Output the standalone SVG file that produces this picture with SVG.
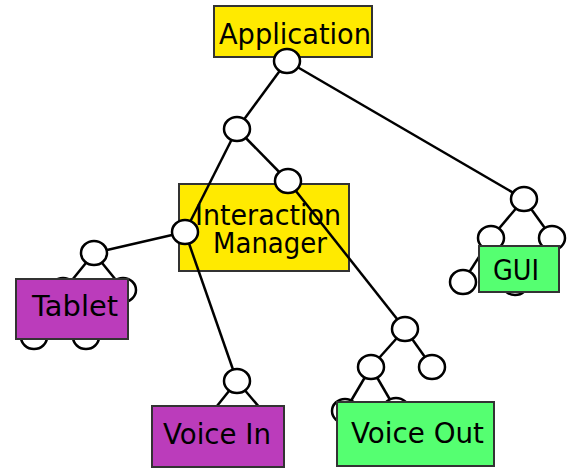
<svg xmlns="http://www.w3.org/2000/svg" width="575" height="473" viewBox="0 0 575 473">
<style>
.box{stroke:#333;stroke-width:2}
.yellow{fill:#FFEA00}
.purple{fill:#BB3CBB}
.green{fill:#55FF71}
.lbl{font-family:"DejaVu Sans",sans-serif;font-size:28px;fill:#000}
.conn line{stroke:#000;stroke-width:2.5}
.jn{fill:#fff;stroke:#000;stroke-width:2.5}
</style>
<rect width="575" height="473" fill="#fff"/>
<g id="application">
<rect class="box yellow" x="214" y="6" width="158" height="51"/>
<text class="lbl" x="219" y="44" textLength="152" lengthAdjust="spacingAndGlyphs">Application</text>
</g>
<g id="interaction-manager">
<rect class="box yellow" x="179" y="184" width="170" height="87"/>
<text class="lbl" x="195" y="225" textLength="146" lengthAdjust="spacingAndGlyphs">Interaction</text>
<text class="lbl" x="213" y="253" textLength="114" lengthAdjust="spacingAndGlyphs">Manager</text>
</g>
<g id="connectors" class="conn">
<line x1="287" y1="61" x2="237" y2="129"/>
<line x1="287" y1="61" x2="524" y2="199"/>
<line x1="237" y1="129" x2="288" y2="181"/>
<line x1="237" y1="129" x2="185" y2="232"/>
<line x1="185" y1="232" x2="94" y2="253"/>
<line x1="185" y1="232" x2="237" y2="381"/>
<line x1="288" y1="181" x2="405" y2="329"/>
<line x1="94" y1="253" x2="64" y2="290"/>
<line x1="94" y1="253" x2="124" y2="290"/>
<line x1="64" y1="290" x2="34" y2="337"/>
<line x1="64" y1="290" x2="86" y2="337"/>
<line x1="237" y1="381" x2="205" y2="421"/>
<line x1="237" y1="381" x2="271" y2="421"/>
<line x1="524" y1="199" x2="491" y2="238"/>
<line x1="524" y1="199" x2="552" y2="238"/>
<line x1="491" y1="238" x2="463" y2="282"/>
<line x1="491" y1="238" x2="515" y2="283"/>
<line x1="405" y1="329" x2="371" y2="367"/>
<line x1="405" y1="329" x2="432" y2="367"/>
<line x1="371" y1="367" x2="345" y2="411"/>
<line x1="371" y1="367" x2="396" y2="410"/>
</g>
<g id="junctions">
<g id="j-app"><ellipse class="jn" cx="287" cy="61" rx="13" ry="12"/></g>
<g id="j-1"><ellipse class="jn" cx="237" cy="129" rx="13" ry="12"/></g>
<g id="j-2"><ellipse class="jn" cx="288" cy="181" rx="13" ry="12"/></g>
<g id="j-3"><ellipse class="jn" cx="185" cy="232" rx="13" ry="12"/></g>
<g id="j-tablet"><ellipse class="jn" cx="94" cy="253" rx="13" ry="12"/></g>
<g id="j-tablet-l"><ellipse class="jn" cx="63" cy="290" rx="13" ry="12"/></g>
<g id="j-tablet-r"><ellipse class="jn" cx="123" cy="290" rx="13" ry="12"/></g>
<g id="j-tablet-ll"><ellipse class="jn" cx="34" cy="337" rx="13" ry="12"/></g>
<g id="j-tablet-lr"><ellipse class="jn" cx="86" cy="337" rx="13" ry="12"/></g>
<g id="j-voicein"><ellipse class="jn" cx="237" cy="381" rx="13" ry="12"/></g>
<g id="j-gui"><ellipse class="jn" cx="524" cy="199" rx="13" ry="12"/></g>
<g id="j-gui-l"><ellipse class="jn" cx="491" cy="238" rx="13" ry="12"/></g>
<g id="j-gui-r"><ellipse class="jn" cx="552" cy="238" rx="13" ry="12"/></g>
<g id="j-gui-ll"><ellipse class="jn" cx="463" cy="282" rx="13" ry="12"/></g>
<g id="j-gui-lr"><ellipse class="jn" cx="515" cy="283" rx="13" ry="12"/></g>
<g id="j-voiceout"><ellipse class="jn" cx="405" cy="329" rx="13" ry="12"/></g>
<g id="j-voiceout-l"><ellipse class="jn" cx="371" cy="367" rx="13" ry="12"/></g>
<g id="j-voiceout-r"><ellipse class="jn" cx="432" cy="367" rx="13" ry="12"/></g>
<g id="j-voiceout-ll"><ellipse class="jn" cx="345" cy="411" rx="13" ry="12"/></g>
<g id="j-voiceout-lr"><ellipse class="jn" cx="396" cy="410" rx="13" ry="12"/></g>
</g>
<g id="tablet">
<rect class="box purple" x="16" y="279" width="112" height="60"/>
<text class="lbl" x="32" y="316" textLength="86" lengthAdjust="spacingAndGlyphs">Tablet</text>
</g>
<g id="voice-in">
<rect class="box purple" x="152" y="406" width="132" height="61"/>
<text class="lbl" x="163" y="444" textLength="108" lengthAdjust="spacingAndGlyphs">Voice In</text>
</g>
<g id="gui">
<rect class="box green" x="479" y="246" width="80" height="46"/>
<text class="lbl" x="493" y="280" textLength="46" lengthAdjust="spacingAndGlyphs">GUI</text>
</g>
<g id="voice-out">
<rect class="box green" x="337" y="402" width="157" height="64"/>
<text class="lbl" x="351" y="443" textLength="133" lengthAdjust="spacingAndGlyphs">Voice Out</text>
</g>
</svg>
